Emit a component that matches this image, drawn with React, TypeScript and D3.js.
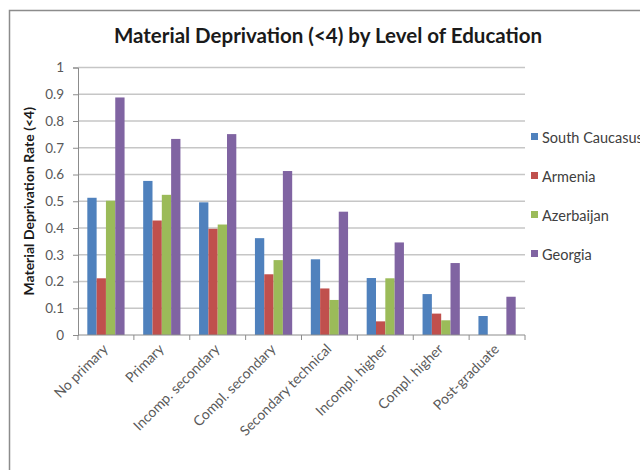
import * as d3 from "d3";
import React, { useEffect, useRef } from "react";

const categories = [
  "No primary",
  "Primary",
  "Incomp. secondary",
  "Compl. secondary",
  "Secondary technical",
  "Incompl. higher",
  "Compl. higher",
  "Post-graduate",
];
const seriesNames = ["South Caucasus", "Armenia", "Azerbaijan", "Georgia"];
const seriesColors = ["#4F81BD", "#C0504D", "#9BBB59", "#8064A2"];

const southCaucasus = [0.513, 0.576, 0.496, 0.362, 0.283, 0.213, 0.153, 0.071];
const armenia = [0.212, 0.428, 0.397, 0.227, 0.174, 0.051, 0.08, null];
const azerbaijan = [0.502, 0.524, 0.413, 0.28, 0.131, 0.212, 0.055, null];
const georgia = [0.888, 0.733, 0.751, 0.613, 0.461, 0.346, 0.269, 0.143];

const yTicks = [0, 0.1, 0.2, 0.3, 0.4, 0.5, 0.6, 0.7, 0.8, 0.9, 1];

const FONT = "Lato, 'Open Sans', sans-serif";

const App = () => {
  const svgRef = useRef<SVGSVGElement>(null);

  useEffect(() => {
    const w = 640;
    const h = 470;
    const left = 78;
    const right = 525;
    const top = 67.5;
    const bottom = 335;

    const svg = d3.select(svgRef.current).attr("width", w).attr("height", h);
    svg.selectAll("*").remove();

    // marco del grafico
    svg.append("rect")
      .attr("x", 9.5)
      .attr("y", 10.5)
      .attr("width", 700)
      .attr("height", 600)
      .attr("fill", "white")
      .attr("stroke", "#8c8c8c")
      .attr("stroke-width", 1.5);

    const x = d3.scaleBand().domain(categories).range([left, right]).padding(0);
    const x1 = d3.scaleBand().domain(seriesNames).range([0, x.bandwidth()])
      .paddingInner(0).paddingOuter(1);
    const y = d3.scaleLinear().domain([0, 1]).range([bottom, top]);

    // titulo
    svg.append("text")
      .attr("x", 328)
      .attr("y", 43)
      .attr("text-anchor", "middle")
      .attr("font-family", FONT)
      .attr("font-weight", "bold")
      .attr("font-size", "20.5px")
      .attr("fill", "#1a1a1a")
      .text("Material Deprivation (<4) by Level of Education");

    // lineas de cuadricula
    svg.append("g")
      .selectAll("line")
      .data(yTicks.slice(1))
      .enter()
      .append("line")
      .attr("x1", left)
      .attr("x2", right)
      .attr("y1", d => y(d))
      .attr("y2", d => y(d))
      .attr("stroke", "#c6c6c6")
      .attr("stroke-width", 1.3);

    // eje Y
    const yAxis = d3.axisLeft(y)
      .tickValues(yTicks)
      .tickSize(5)
      .tickPadding(9)
      .tickFormat(d => String(d));
    const gy = svg.append("g")
      .attr("transform", `translate(${left}, 0)`)
      .call(yAxis);
    gy.selectAll("path, line").attr("stroke", "#8c8c8c");
    gy.selectAll("text")
      .attr("font-family", FONT)
      .attr("font-size", "13.5px")
      .attr("fill", "#595959");

    svg.append("text")
      .attr("transform", `translate(34, ${(top + bottom) / 2}) rotate(-90)`)
      .attr("text-anchor", "middle")
      .attr("font-family", FONT)
      .attr("font-weight", "bold")
      .attr("font-size", "14px")
      .attr("fill", "#1a1a1a")
      .text("Material Deprivation Rate (<4)");

    // barras
    const allSeries = [southCaucasus, armenia, azerbaijan, georgia];
    const groups = svg.append("g")
      .selectAll("g")
      .data(categories)
      .enter()
      .append("g")
      .attr("transform", d => `translate(${x(d)}, 0)`);

    groups.selectAll("rect")
      .data((c, i) => seriesNames.map((s, k) => ({ s, k, v: allSeries[k][i] })))
      .enter()
      .filter(d => d.v !== null)
      .append("rect")
      .attr("x", d => x1(d.s) as number)
      .attr("y", d => y(d.v as number))
      .attr("width", x1.bandwidth())
      .attr("height", d => y(0) - y(d.v as number))
      .attr("fill", d => seriesColors[d.k]);

    // eje X
    const gx = svg.append("g");
    gx.append("line")
      .attr("x1", left)
      .attr("x2", right)
      .attr("y1", bottom)
      .attr("y2", bottom)
      .attr("stroke", "#8c8c8c");
    gx.selectAll("line.tick")
      .data([...categories.map(c => x(c) as number), right])
      .enter()
      .append("line")
      .attr("class", "tick")
      .attr("x1", d => d)
      .attr("x2", d => d)
      .attr("y1", bottom)
      .attr("y2", bottom + 5)
      .attr("stroke", "#8c8c8c");
    gx.selectAll("text")
      .data(categories)
      .enter()
      .append("text")
      .attr("transform", d => `translate(${(x(d) as number) + x.bandwidth() / 2 + 3}, ${bottom + 15}) rotate(-45)`)
      .attr("text-anchor", "end")
      .attr("font-family", FONT)
      .attr("font-size", "14px")
      .attr("fill", "#595959")
      .text(d => d);

    // leyenda
    const legend = svg.append("g")
      .selectAll("g")
      .data(seriesNames)
      .enter()
      .append("g")
      .attr("transform", (d, i) => `translate(531, ${136.5 + i * 39})`);
    legend.append("rect")
      .attr("x", 0)
      .attr("y", -3.5)
      .attr("width", 7)
      .attr("height", 7)
      .attr("fill", (d, i) => seriesColors[i]);
    legend.append("text")
      .attr("x", 11)
      .attr("y", 6)
      .attr("font-family", FONT)
      .attr("font-size", "14.5px")
      .attr("fill", "#404040")
      .text(d => d);
  }, []);

  return (
    <svg ref={svgRef} style={{ position: "absolute", left: 0, top: 0 }}></svg>
  );
};

export default App;
